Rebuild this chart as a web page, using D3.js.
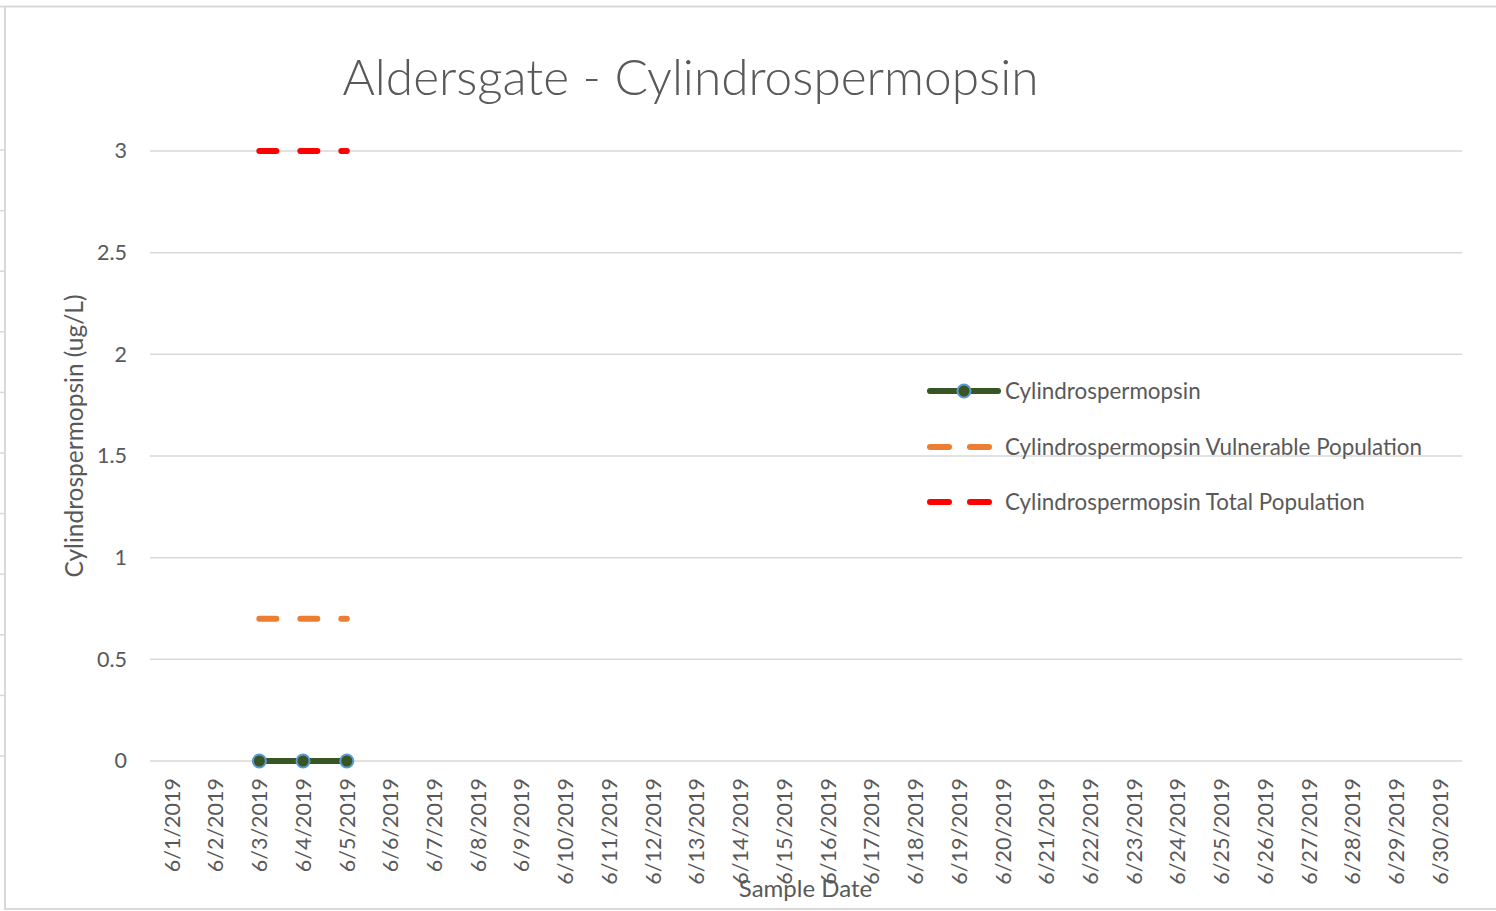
<!DOCTYPE html>
<html><head><meta charset="utf-8">
<script src="https://cdn.jsdelivr.net/npm/d3@7"></script>
<style>body{margin:0;background:#fff;} svg{display:block;}</style>
</head><body><svg id="c" width="1496" height="911"></svg>
<script>
// ---- data ----
const categories = ["6/1/2019","6/2/2019","6/3/2019","6/4/2019","6/5/2019","6/6/2019","6/7/2019","6/8/2019","6/9/2019","6/10/2019",
  "6/11/2019","6/12/2019","6/13/2019","6/14/2019","6/15/2019","6/16/2019","6/17/2019","6/18/2019","6/19/2019","6/20/2019",
  "6/21/2019","6/22/2019","6/23/2019","6/24/2019","6/25/2019","6/26/2019","6/27/2019","6/28/2019","6/29/2019","6/30/2019"];
const sampleDates = ["6/3/2019","6/4/2019","6/5/2019"];
const cylValues = [0, 0, 0];
const vulnerableValues = [0.7, 0.7, 0.7];
const totalValues = [3, 3, 3];
const yTickValues = [0, 0.5, 1, 1.5, 2, 2.5, 3];
const seriesNames = ["Cylindrospermopsin", "Cylindrospermopsin Vulnerable Population", "Cylindrospermopsin Total Population"];
const titleText = "Aldersgate - Cylindrospermopsin";
const yTitle = "Cylindrospermopsin (ug/L)";
const xTitle = "Sample Date";

// ---- layout ----
const FONT = "Lato, 'Open Sans', sans-serif";
const TXT = "#595959";
const GRID = "#d9d9d9";
const svg = d3.select("#c");
svg.append("rect").attr("width",1496).attr("height",911).attr("fill","#fff");

// outer frame
svg.append("line").attr("x1",0).attr("x2",1496).attr("y1",6.5).attr("y2",6.5).attr("stroke",GRID).attr("stroke-width",2);
svg.append("line").attr("x1",5).attr("x2",5).attr("y1",6).attr("y2",909).attr("stroke",GRID).attr("stroke-width",2);
svg.append("line").attr("x1",4).attr("x2",1496).attr("y1",909).attr("y2",909).attr("stroke",GRID).attr("stroke-width",2);
for (let k = 0; k < 11; k++) {
  const yy = 150 + k * 60.6;
  svg.append("line").attr("x1",0).attr("x2",5).attr("y1",yy).attr("y2",yy).attr("stroke",GRID).attr("stroke-width",1.5);
}

const x = d3.scaleBand().domain(categories).range([150, 1462]).padding(0);
const cx = d => x(d) + x.bandwidth() / 2;
const y = d3.scaleLinear().domain([0, 3]).range([761, 151]);

// gridlines
svg.append("g").selectAll("line").data(yTickValues).join("line")
  .attr("x1",150).attr("x2",1462)
  .attr("y1",d=>y(d)).attr("y2",d=>y(d))
  .attr("stroke",GRID).attr("stroke-width",1.5);

// y axis
const yAxis = svg.append("g").attr("transform","translate(150,0)")
  .call(d3.axisLeft(y).tickValues(yTickValues).tickSize(0).tickPadding(23).tickFormat(d3.format("~g")));
yAxis.select(".domain").remove();
yAxis.selectAll("text").attr("fill",TXT).style("font-family",FONT).style("font-size","21.5px");

// x axis
const xAxis = svg.append("g").attr("transform","translate(0,761)")
  .call(d3.axisBottom(x).tickSize(0));
xAxis.select(".domain").remove();
xAxis.selectAll("text")
  .attr("transform","rotate(-90)")
  .attr("x",-17).attr("y",0).attr("dy","0.36em")
  .attr("text-anchor","end")
  .attr("fill",TXT).style("font-family",FONT).style("font-size","21.5px");

// series
const mk = (vals) => sampleDates.map((d,i)=>({d, v: vals[i]}));
const line = d3.line().x(p=>cx(p.d)).y(p=>y(p.v));

svg.append("path").datum(mk(totalValues)).attr("d",line)
  .attr("fill","none").attr("stroke","#ff0000").attr("stroke-width",6)
  .attr("stroke-linecap","round").attr("stroke-dasharray","17,24");
svg.append("path").datum(mk(vulnerableValues)).attr("d",line)
  .attr("fill","none").attr("stroke","#ed7d31").attr("stroke-width",6)
  .attr("stroke-linecap","round").attr("stroke-dasharray","17,24");
svg.append("path").datum(mk(cylValues)).attr("d",line)
  .attr("fill","none").attr("stroke","#375623").attr("stroke-width",6);
svg.append("g").selectAll("circle").data(mk(cylValues)).join("circle")
  .attr("cx",p=>cx(p.d)).attr("cy",p=>y(p.v)).attr("r",6.5)
  .attr("fill","#375623").attr("stroke","#5b9bd5").attr("stroke-width",2);

// title
svg.append("text").attr("x",690.5).attr("y",95).attr("text-anchor","middle")
  .attr("fill",TXT).style("font-family",FONT).style("font-weight",300).style("font-size","49.6px").text(titleText);

// axis titles
svg.append("text").attr("transform","translate(83,436) rotate(-90)").attr("text-anchor","middle")
  .attr("fill",TXT).style("font-family",FONT).style("font-size","24.5px").text(yTitle);
svg.append("text").attr("x",805.5).attr("y",897).attr("text-anchor","middle")
  .attr("fill",TXT).style("font-family",FONT).style("font-size","24px").text(xTitle);

// legend
const legY = [391, 447, 502];
const lg = svg.append("g");
lg.append("line").attr("x1",930).attr("x2",998).attr("y1",legY[0]).attr("y2",legY[0])
  .attr("stroke","#375623").attr("stroke-width",6).attr("stroke-linecap","round");
lg.append("circle").attr("cx",964).attr("cy",legY[0]).attr("r",6.5)
  .attr("fill","#375623").attr("stroke","#5b9bd5").attr("stroke-width",2);
lg.append("line").attr("x1",930).attr("x2",990).attr("y1",legY[1]).attr("y2",legY[1])
  .attr("stroke","#ed7d31").attr("stroke-width",6).attr("stroke-linecap","round").attr("stroke-dasharray","19,21");
lg.append("line").attr("x1",930).attr("x2",990).attr("y1",legY[2]).attr("y2",legY[2])
  .attr("stroke","#ff0000").attr("stroke-width",6).attr("stroke-linecap","round").attr("stroke-dasharray","19,21");
lg.selectAll("text").data(seriesNames).join("text")
  .attr("x",1005).attr("y",(d,i)=>legY[i]).attr("dy","0.36em")
  .attr("fill",TXT).style("font-family",FONT).style("font-size","22.4px").text(d=>d);
</script>
</body></html>
